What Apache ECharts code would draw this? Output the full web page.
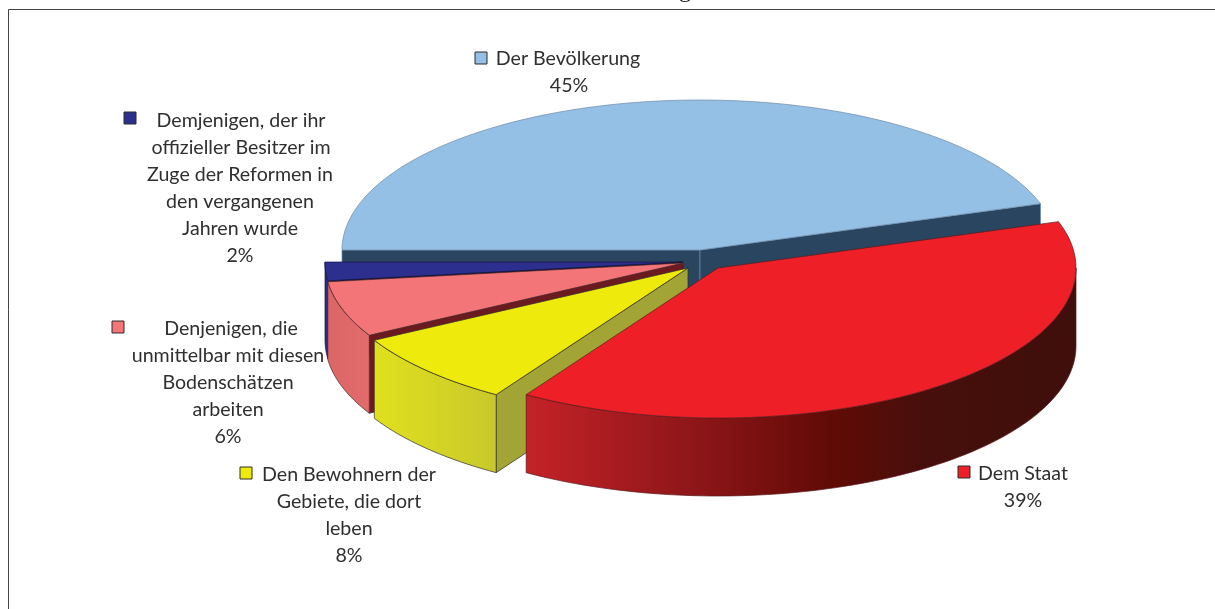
<!DOCTYPE html>
<html>
<head>
<meta charset="utf-8">
<style>html,body{margin:0;padding:0;background:#fff}#c{width:1215px;height:609px}</style>
<script src="https://cdn.jsdelivr.net/npm/echarts@6/dist/echarts.min.js"></script>
</head>
<body>
<div id="c"></div>
<script>
// ---- data (clockwise from the 9 o'clock position) ----
const categories = ['Der Bevölkerung', 'Dem Staat', 'Den Bewohnern der Gebiete, die dort leben', 'Denjenigen, die unmittelbar mit diesen Bodenschätzen arbeiten', 'Demjenigen, der ihr offizieller Besitzer im Zuge der Reformen in den vergangenen Jahren wurde'];
const values = [45, 39, 8, 6, 2];
const labelLines = [
  ['Der Bevölkerung', '45%'],
  ['Dem Staat', '39%'],
  ['Den Bewohnern der', 'Gebiete, die dort', 'leben', '8%'],
  ['Denjenigen, die', 'unmittelbar mit diesen', 'Bodenschätzen', 'arbeiten', '6%'],
  ['Demjenigen, der ihr', 'offizieller Besitzer im', 'Zuge der Reformen in', 'den vergangenen', 'Jahren wurde', '2%']
];

// ---- style and layout ----
const topColors = ['#95c0e6', '#ee1f27', '#eeea0c', '#f37577', '#2d2f8f'];
const faceColors = ['#2a4560', '#5a0c0c', '#a3a436', '#6b1a1f', '#05052a'];
const rimStops = [
  [[0, '#2a4560'], [1, '#2a4560']],
  [[0, '#c42228'], [0.3, '#8f1619'], [0.55, '#620b06'], [0.72, '#470f0b'], [1, '#3f0f0b']],
  [[0, '#e0e01e'], [1, '#c9c82b']],
  [[0, '#dc6666'], [1, '#e26c6c']],
  [[0, '#2a2c88'], [1, '#2a2c88']]
];
const edgeColors = ['#6d8aa6', '#5a1a1c', '#2c2c2c', '#4a2a2a', '#14143c'];
const explode = [[0, 0], [18, 18], [-12, 18], [-17, 13], [-17, 12]];
const paintRank = [0, 4, 3, 2, 1];
const CX = 700, CY = 250, RX = 358, RY = 150, DEPTH = 78, START = 270;
const keyBoxes = [[475, 52], [958, 466], [240, 467], [112, 321], [124, 112]];
const lineCentersX = [[568, 569], [1023, 1023], [349, 349, 349, 349], [231, 228, 228, 228, 228], [241, 241, 240, 240, 240, 240]];
const lineStartsY = [58.5, 473.5, 474.5, 328.5, 120.5];
const LINE_H = 27;
const FONT = 'Lato, "Open Sans", sans-serif';

const total = values.reduce((a, b) => a + b, 0);
const starts = [];
values.reduce((acc, v, i) => { starts[i] = acc; return acc + v / total * 360; }, START);

function pt(i, th, down) {
  const r = th * Math.PI / 180;
  return [CX + explode[i][0] + RX * Math.sin(r), CY + explode[i][1] - RY * Math.cos(r) + (down || 0)];
}
function arc(i, a, b, down) {
  const n = Math.max(2, Math.ceil(Math.abs(b - a) / 1.5));
  const out = [];
  for (let k = 0; k <= n; k++) out.push(pt(i, a + (b - a) * k / n, down));
  return out;
}
function apex(i, down) { return [CX + explode[i][0], CY + explode[i][1] + (down || 0)]; }
function sinDeg(t) { return Math.sin(t * Math.PI / 180); }

function renderItem(params, api) {
  const i = api.value(0);
  const s = starts[i], e = s + api.value(1) / total * 360;
  const z = paintRank[i] * 10;
  const kids = [];
  const poly = (points, fill, zz) => kids.push({
    type: 'polygon', shape: { points }, z2: z + zz,
    style: { fill, stroke: edgeColors[i], lineWidth: 0.7 }
  });
  // cut faces seen from the front
  const face = th => poly([apex(i), pt(i, th), pt(i, th, DEPTH), apex(i, DEPTH)], faceColors[i], 1);
  if (sinDeg(s) < 0) face(s);
  if (sinDeg(e) > 0) face(e);
  // outer rim: only the near half of the ellipse is visible
  [[90, 270], [450, 630]].forEach(([lo, hi]) => {
    const a = Math.max(s, lo), b = Math.min(e, hi);
    if (b <= a) return;
    const pts = arc(i, a, b).concat(arc(i, b, a, DEPTH));
    const fill = new echarts.graphic.LinearGradient(0, 0, 1, 0, rimStops[i].map(([offset, color]) => ({ offset, color })));
    poly(pts, fill, 2);
  });
  // top surface
  poly([apex(i)].concat(arc(i, s, e)), topColors[i], 3);
  return { type: 'group', children: kids };
}

const graphicEls = [];
labelLines.forEach((lines, i) => {
  graphicEls.push({
    type: 'rect', shape: { x: keyBoxes[i][0], y: keyBoxes[i][1], width: 12, height: 12 },
    style: { fill: topColors[i], stroke: '#2c2c2c', lineWidth: 1 }
  });
  lines.forEach((t, k) => graphicEls.push({
    type: 'text', x: lineCentersX[i][k], y: lineStartsY[i] + k * LINE_H,
    style: { text: t, font: '19.6px ' + FONT, fill: '#2f2f2f', textAlign: 'center', textVerticalAlign: 'middle' }
  }));
});
// frame and the clipped heading above it
graphicEls.push({ type: 'line', shape: { x1: 8.5, y1: 9.5, x2: 1215, y2: 9.5 }, style: { stroke: '#444', lineWidth: 1.2 } });
graphicEls.push({ type: 'line', shape: { x1: 8.5, y1: 9.5, x2: 8.5, y2: 609 }, style: { stroke: '#444', lineWidth: 1 } });
graphicEls.push({ type: 'text', x: 685, y: -9, style: { text: 'g', font: '24px "Liberation Serif", serif', fill: '#111', textAlign: 'center', textVerticalAlign: 'middle' } });

const chart = echarts.init(document.getElementById('c'), null, { renderer: 'canvas' });
chart.setOption({
  animation: false,
  backgroundColor: '#ffffff',
  graphic: graphicEls,
  series: [{
    type: 'custom',
    coordinateSystem: 'none',
    silent: true,
    renderItem,
    data: values.map((v, i) => ({ name: categories[i], value: [i, v] }))
  }]
});
</script>
</body>
</html>
